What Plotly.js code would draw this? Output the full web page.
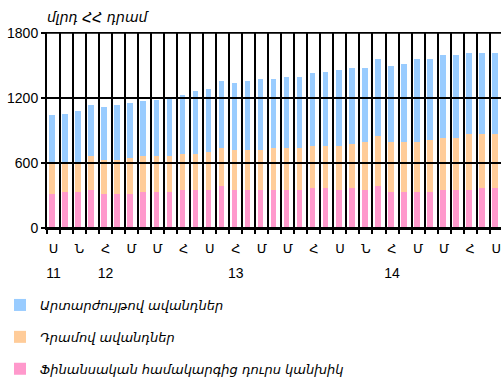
<!DOCTYPE html>
<html><head><meta charset="utf-8">
<script src="https://cdn.plot.ly/plotly-3.0.1.min.js"></script>
<style>html,body{margin:0;padding:0;background:#fff}</style>
</head><body><div id="chart" style="width:501px;height:383px"></div>
<script>
// tick labels (every second bar) and year labels
const monthLabels = ['Ս','Ն','Հ','Մ','Մ','Հ','Ս','Հ','Մ','Մ','Հ','Ս','Ն','Հ','Մ','Մ','Հ','Ս'];
const yearLabels = ['11','12','13','14'];
const yearBars = [0, 4, 14, 26];
const yTicks = [0, 600, 1200, 1800];
const seriesNames = ['Ֆինանսական համակարգից դուրս կանխիկ', 'Դրամով ավանդներ', 'Արտարժույթով ավանդներ'];
// values, bln AMD (stacked bottom -> top)
const cashOutside = [317,335,335,354,317,317,317,335,335,335,354,354,354,390,354,354,354,354,354,354,372,372,354,372,354,390,335,335,335,335,354,354,354,372,372];
const dramDeposits = [276,276,276,312,313,313,331,331,331,331,331,331,349,350,368,368,368,386,386,386,386,386,404,405,441,460,460,460,460,478,478,478,514,496,496];
const fxDeposits = [450,442,469,469,487,505,506,506,515,534,542,579,579,616,615,634,652,634,653,653,672,681,699,699,681,708,699,717,763,745,763,763,745,745,745];

const colors = ['#FF99CC', '#FFCC99', '#99CCFF'];
const n = cashOutside.length;
const xIdx = cashOutside.map((_, i) => i);
const xRange = [-0.5, n - 0.63];
const yRange = [0, 1808];
const armFont = 'DejaVu Sans, Noto Sans, sans-serif';
const numFont = 'Liberation Sans, Arial, sans-serif';

const series = [cashOutside, dramDeposits, fxDeposits];
const traces = series.map((vals, k) => ({
  type: 'bar', x: xIdx, y: vals, name: seriesNames[k], legendgroup: 'g' + k, legendrank: 3 - k,
  marker: {color: colors[k], line: {width: 0}},
  width: 0.44, offset: -0.32, hoverinfo: 'skip'
}));

const boundaries = [];
for (let i = 0; i <= n; i++) boundaries.push(i - 0.5);
const monthPos = monthLabels.map((_, i) => i * 2);
const tickText = monthPos.map((p, i) => {
  const m = '<span style="font-size:13px;font-family:DejaVu Sans">' + monthLabels[i] + '</span>';
  const yi = yearBars.indexOf(p);
  return yi >= 0 ? m + '<br><span style="font-size:14px">' + yearLabels[yi] + '</span>' : m;
});

const shapes = yTicks.map(v => ({
  type: 'line', xref: 'x', yref: 'y', x0: xRange[0], x1: xRange[1], y0: v, y1: v,
  line: {color: '#000', width: 2}, layer: 'above'
}));

const layout = {
  width: 501, height: 383,
  margin: {l: 47, r: 0, t: 32, b: 154.5, pad: 0, autoexpand: false},
  paper_bgcolor: '#fff', plot_bgcolor: '#fff',
  barmode: 'stack', showlegend: true,
  title: {text: 'մլրդ ՀՀ դրամ', font: {family: armFont, size: 14, color: '#000', style: 'italic'},
          x: 0, xref: 'paper', xanchor: 'left', y: 1 - 17/383, yref: 'container', yanchor: 'middle'},
  xaxis: {type: 'linear', range: xRange, fixedrange: true,
          tickmode: 'array', tickvals: monthPos, ticktext: tickText, ticks: '',
          ticklabelstandoff: 0,
          tickfont: {family: numFont, size: 19, color: '#000'},
          showgrid: false, showline: true, linecolor: '#000', linewidth: 2, zeroline: false,
          minor: {tickmode: 'array', tickvals: boundaries, ticks: 'outside', ticklen: 4, tickwidth: 2, tickcolor: '#000',
                  showgrid: true, gridcolor: '#000', gridwidth: 2},
          layer: 'above traces'},
  yaxis: {range: yRange, fixedrange: true,
          tickmode: 'array', tickvals: yTicks, ticktext: yTicks.map(String),
          ticks: 'outside', ticklen: 4, tickwidth: 2, tickcolor: '#000',
          showgrid: false, zeroline: false, showline: true, linecolor: '#000', linewidth: 2,
          tickfont: {family: numFont, size: 14, color: '#000'}},
  legend: {orientation: 'v', xref: 'container', yref: 'container', x: 0, y: 1 - 290/383,
           xanchor: 'left', yanchor: 'top', traceorder: 'grouped', tracegroupgap: 12,
           font: {family: armFont, size: 13, color: '#000', style: 'italic'}, bgcolor: 'rgba(0,0,0,0)'},
  shapes: shapes
};

Plotly.newPlot('chart', traces, layout, {displayModeBar: false, staticPlot: true});
</script></body></html>
